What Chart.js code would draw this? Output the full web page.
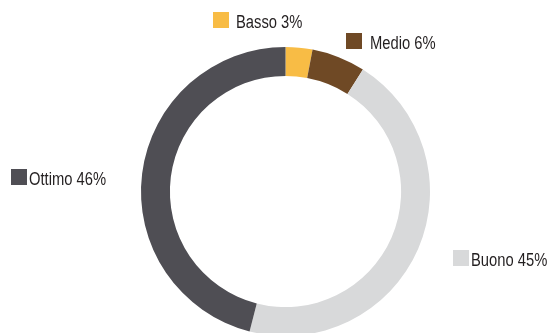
<!DOCTYPE html>
<html>
<head>
<meta charset="utf-8">
<script src="https://cdn.jsdelivr.net/npm/chart.js@4/dist/chart.umd.min.js"></script>
<style>
  html, body { margin: 0; padding: 0; background: #fff; overflow: hidden; }
  #wrap { width: 552px; height: 340px; }
</style>
</head>
<body>
<div id="wrap"><canvas id="grafico" width="552" height="340"></canvas></div>
<script>
// dati del grafico
const categorie = ['Basso', 'Medio', 'Buono', 'Ottimo'];
const valori = [3, 6, 45, 46];
const colori = ['#F8BC45', '#6F4925', '#D8D9DA', '#4F4E54'];

// posizione etichette rispetto al punto medio esterno di ogni arco
const offsetEtichette = [
    { dx: -86, dy: -36, gap: 7 },
    { dx: 7, dy: -24, gap: 8 },
    { dx: 35, dy: 1, gap: 2 },
    { dx: -131, dy: -4, gap: 2 }
];

const etichettePlugin = {
    id: 'etichette',
    afterDraw(chart) {
        const ctx = chart.ctx;
        const meta = chart.getDatasetMeta(0);
        const stretto = 0.82; // carattere condensato (tipo Arial Narrow)
        ctx.save();
        ctx.font = '18px "Liberation Sans", Arial, sans-serif';
        ctx.textBaseline = 'alphabetic';
        ctx.textAlign = 'left';
        meta.data.forEach((arc, i) => {
            const p = arc.getProps(['x', 'y', 'startAngle', 'endAngle', 'outerRadius'], true);
            const mid = (p.startAngle + p.endAngle) / 2;
            const ax = p.x + Math.cos(mid) * p.outerRadius;
            const ay = p.y + Math.sin(mid) * p.outerRadius;
            const o = offsetEtichette[i];
            const sx = Math.round(ax + o.dx);
            const sy = Math.round(ay + o.dy);
            ctx.fillStyle = colori[i];
            ctx.fillRect(sx, sy, 16, 16);
            ctx.save();
            ctx.translate(sx + 16 + o.gap, sy + 16);
            ctx.scale(stretto, 1);
            ctx.fillStyle = '#231F20';
            ctx.fillText(categorie[i] + ' ' + valori[i] + '%', 0, 0);
            ctx.restore();
        });
        ctx.restore();
    }
};

const ctx = document.getElementById('grafico').getContext('2d');
new Chart(ctx, {
    type: 'doughnut',
    data: {
        labels: categorie,
        datasets: [{
            data: valori,
            backgroundColor: colori,
            borderWidth: 0
        }]
    },
    options: {
        responsive: false,
        animation: false,
        cutout: '80%',
        layout: {
            padding: { left: 141, right: 122, top: 47, bottom: 4 }
        },
        plugins: {
            legend: { display: false },
            tooltip: { enabled: false }
        }
    },
    plugins: [etichettePlugin]
});
</script>
</body>
</html>
